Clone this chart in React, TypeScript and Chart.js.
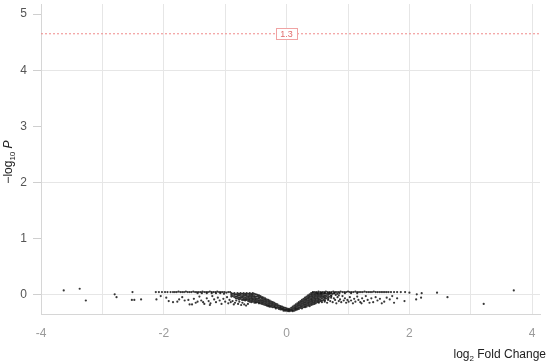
import React, { useEffect, useRef } from "react";
import { Chart, registerables } from "chart.js";

Chart.register(...registerables);

type P = [number, number];

// Axis ranges and tick labels
const xRange: [number, number] = [-4, 4.127];
const yRange: [number, number] = [-0.34, 5.18];
const xTickValues = [-4, -3, -2, -1, 0, 1, 2, 3, 4];
const xLabelValues = [-4, -2, 0, 2, 4];
const yTickValues = [0, 1, 2, 3, 4, 5];
const yGridValues = [0, 2, 4];

// Threshold line
const thresholdY = 4.65;
const thresholdLabel = "1.3";

// Outlying genes (far from zero fold change)
const farLeft: P[] = [
  [-3.63, 0.08], [-3.37, 0.11], [-3.27, -0.1], [-2.8, 0.01], [-2.77, -0.04],
  [-2.51, 0.05], [-2.52, -0.09], [-2.48, -0.09], [-2.37, -0.08], [-2.12, -0.08],
];
const farRight: P[] = [
  [2.0, 0.04], [2.12, 0.01], [2.2, 0.03], [2.19, -0.05], [2.11, -0.08],
  [2.45, 0.04], [2.62, -0.04], [3.21, -0.16], [3.7, 0.08], [1.92, -0.11],
];

// Upper flat line of points, left and right
const topLineLeft: P[] = [
  [-2.13, 0.05], [-2.08, 0.05], [-2.03, 0.05], [-1.98, 0.05], [-1.94, 0.05], [-1.89, 0.05],
  [-1.85, 0.05], [-1.82, 0.05], [-1.79, 0.05], [-1.76, 0.06], [-1.73, 0.05], [-1.7, 0.05],
  [-1.67, 0.05], [-1.64, 0.06], [-1.61, 0.05], [-1.58, 0.05], [-1.55, 0.05], [-1.52, 0.06],
  [-1.49, 0.05], [-1.46, 0.05], [-1.43, 0.05], [-1.4, 0.05], [-1.37, 0.06], [-1.34, 0.05],
  [-1.31, 0.05], [-1.28, 0.05], [-1.25, 0.06], [-1.22, 0.05], [-1.19, 0.05], [-1.16, 0.05],
  [-1.13, 0.06], [-1.1, 0.05], [-1.07, 0.05], [-1.04, 0.05], [-1.01, 0.05], [-0.98, 0.04],
  [-1.45, 0.03], [-1.38, 0.03], [-1.3, 0.03], [-1.22, 0.03], [-1.15, 0.03], [-1.08, 0.03],
  [-1.02, 0.02], [-0.95, 0.05], [-0.92, 0.05],
];
const topLineRight: P[] = [
  [0.43, 0.05], [0.46, 0.05], [0.49, 0.05], [0.52, 0.06], [0.55, 0.05], [0.58, 0.05],
  [0.61, 0.05], [0.64, 0.06], [0.67, 0.05], [0.7, 0.05], [0.73, 0.05], [0.76, 0.06],
  [0.79, 0.05], [0.82, 0.05], [0.85, 0.05], [0.88, 0.06], [0.91, 0.05], [0.94, 0.05],
  [0.97, 0.05], [1.0, 0.06], [1.03, 0.05], [1.06, 0.05], [1.09, 0.05], [1.12, 0.06],
  [1.15, 0.05], [1.18, 0.05], [1.21, 0.05], [1.24, 0.05], [1.27, 0.06], [1.3, 0.05],
  [1.33, 0.05], [1.36, 0.05], [1.39, 0.05], [1.42, 0.06], [1.45, 0.05], [1.48, 0.05],
  [1.51, 0.05], [1.54, 0.05], [1.57, 0.05], [1.6, 0.05], [1.63, 0.05], [1.66, 0.05],
  [1.7, 0.05], [1.75, 0.05], [1.8, 0.05], [1.86, 0.05], [1.93, 0.05],
  [0.5, 0.03], [0.56, 0.03], [0.62, 0.03], [0.7, 0.03], [0.78, 0.03], [0.86, 0.03],
  [0.95, 0.03], [1.05, 0.03], [1.15, 0.03],
];

// Scattered points below the flat line
const belowLeft: P[] = [
  [-1.92, -0.11], [-1.85, -0.13], [-1.78, -0.12], [-1.6, -0.09], [-1.58, -0.17], [-1.54, -0.17],
  [-1.51, -0.07], [-2.05, -0.02], [-1.96, -0.05], [-1.7, -0.04], [-1.66, -0.1], [-1.45, -0.12],
  [-1.42, -0.03], [-1.39, -0.1], [-1.36, -0.13], [-1.34, -0.16], [-1.3, -0.06], [-1.27, -0.11],
  [-1.24, -0.15], [-1.21, -0.02], [-1.18, -0.08], [-1.15, -0.13], [-1.12, -0.05], [-1.09, -0.1],
  [-1.06, -0.16], [-1.03, -0.07], [-1.0, -0.12], [-0.97, -0.04], [-0.95, -0.15], [-0.93, -0.09],
  [-0.91, -0.13], [-0.88, -0.11], [-0.86, -0.17], [-0.84, -0.14], [-0.82, -0.1], [-0.79, -0.16],
  [-0.77, -0.12], [-0.74, -0.18], [-0.72, -0.14], [-0.69, -0.17], [-0.66, -0.19], [-0.63, -0.16],
  [-1.48, -0.14], [-1.75, -0.08], [-1.25, -0.18],
];
const belowRight: P[] = [
  [0.62, -0.12], [0.66, -0.14], [0.68, -0.07], [0.71, -0.11], [0.73, -0.02], [0.75, -0.13],
  [0.77, -0.06], [0.79, -0.09], [0.81, -0.15], [0.83, -0.04], [0.85, -0.11], [0.87, -0.08],
  [0.89, -0.13], [0.91, -0.02], [0.93, -0.1], [0.95, -0.06], [0.97, -0.14], [0.99, -0.09],
  [1.01, -0.12], [1.03, -0.04], [1.05, -0.1], [1.08, -0.15], [1.1, -0.07], [1.12, -0.12],
  [1.15, -0.03], [1.17, -0.09], [1.2, -0.13], [1.23, -0.06], [1.26, -0.11], [1.29, -0.02],
  [1.32, -0.09], [1.35, -0.14], [1.38, -0.06], [1.41, -0.13], [1.45, -0.04], [1.48, -0.1],
  [1.52, -0.07], [1.55, -0.15], [1.59, -0.12], [1.63, -0.05], [1.68, -0.08], [1.72, -0.02],
  [1.75, -0.14], [1.8, -0.06], [1.22, -0.15],
];

// Dense V-shaped band around zero fold change
const vLeft: P[] = [
  [-0.9, 0.03], [-0.9, 0.0], [-0.9, -0.03], [-0.875, 0.02], [-0.875, -0.02],
  [-0.85, 0.03], [-0.85, 0.0], [-0.85, -0.04], [-0.825, 0.01], [-0.825, -0.03], [-0.825, -0.06],
  [-0.8, 0.03], [-0.8, 0.0], [-0.8, -0.03], [-0.8, -0.06],
  [-0.775, 0.02], [-0.775, -0.01], [-0.775, -0.05], [-0.775, -0.08],
  [-0.75, 0.03], [-0.75, 0.0], [-0.75, -0.04], [-0.75, -0.07],
  [-0.725, 0.02], [-0.725, -0.02], [-0.725, -0.05], [-0.725, -0.09],
  [-0.7, 0.03], [-0.7, 0.0], [-0.7, -0.03], [-0.7, -0.06], [-0.7, -0.09],
  [-0.675, 0.02], [-0.675, -0.01], [-0.675, -0.05], [-0.675, -0.08], [-0.675, -0.1],
  [-0.65, 0.03], [-0.65, 0.0], [-0.65, -0.03], [-0.65, -0.06], [-0.65, -0.09],
  [-0.625, 0.02], [-0.625, -0.02], [-0.625, -0.05], [-0.625, -0.08], [-0.625, -0.11],
  [-0.6, 0.03], [-0.6, 0.0], [-0.6, -0.03], [-0.6, -0.06], [-0.6, -0.09], [-0.6, -0.12],
  [-0.575, 0.02], [-0.575, -0.01], [-0.575, -0.04], [-0.575, -0.07], [-0.575, -0.1], [-0.575, -0.13],
  [-0.55, 0.03], [-0.55, 0.0], [-0.55, -0.03], [-0.55, -0.06], [-0.55, -0.09], [-0.55, -0.12],
  [-0.525, 0.02], [-0.525, -0.02], [-0.525, -0.05], [-0.525, -0.08], [-0.525, -0.11], [-0.525, -0.14],
  [-0.5, 0.01], [-0.5, -0.03], [-0.5, -0.06], [-0.5, -0.09], [-0.5, -0.12], [-0.5, -0.14],
  [-0.475, 0.0], [-0.475, -0.03], [-0.475, -0.07], [-0.475, -0.1], [-0.475, -0.13],
  [-0.45, -0.01], [-0.45, -0.04], [-0.45, -0.07], [-0.45, -0.1], [-0.45, -0.13], [-0.45, -0.15],
  [-0.425, -0.02], [-0.425, -0.05], [-0.425, -0.09], [-0.425, -0.12], [-0.425, -0.15],
  [-0.4, -0.04], [-0.4, -0.07], [-0.4, -0.1], [-0.4, -0.13], [-0.4, -0.16],
  [-0.375, -0.05], [-0.375, -0.08], [-0.375, -0.11], [-0.375, -0.14], [-0.375, -0.17],
  [-0.35, -0.06], [-0.35, -0.09], [-0.35, -0.12], [-0.35, -0.15], [-0.35, -0.18],
  [-0.325, -0.08], [-0.325, -0.11], [-0.325, -0.14], [-0.325, -0.17], [-0.325, -0.19],
  [-0.3, -0.09], [-0.3, -0.12], [-0.3, -0.15], [-0.3, -0.18], [-0.3, -0.2],
  [-0.275, -0.1], [-0.275, -0.13], [-0.275, -0.16], [-0.275, -0.19], [-0.275, -0.21],
  [-0.25, -0.12], [-0.25, -0.15], [-0.25, -0.18], [-0.25, -0.21],
  [-0.225, -0.13], [-0.225, -0.16], [-0.225, -0.19], [-0.225, -0.22],
  [-0.2, -0.14], [-0.2, -0.17], [-0.2, -0.2], [-0.2, -0.22],
  [-0.175, -0.16], [-0.175, -0.19], [-0.175, -0.22], [-0.175, -0.24],
  [-0.15, -0.17], [-0.15, -0.2], [-0.15, -0.23],
  [-0.125, -0.19], [-0.125, -0.22], [-0.125, -0.25],
  [-0.1, -0.2], [-0.1, -0.22], [-0.1, -0.24], [-0.1, -0.26],
  [-0.075, -0.21], [-0.075, -0.24], [-0.075, -0.26],
  [-0.05, -0.22], [-0.05, -0.24], [-0.05, -0.26], [-0.05, -0.28],
  [-0.025, -0.23], [-0.025, -0.26], [-0.025, -0.28],
  [0.0, -0.24], [0.0, -0.26], [0.0, -0.28],
  [0.025, -0.25], [0.025, -0.27], [0.025, -0.29],
];
const vRight: P[] = [
  [0.05, -0.25], [0.05, -0.27], [0.05, -0.29],
  [0.075, -0.23], [0.075, -0.26], [0.075, -0.28],
  [0.1, -0.21], [0.1, -0.24], [0.1, -0.27], [0.1, -0.29],
  [0.125, -0.19], [0.125, -0.22], [0.125, -0.25], [0.125, -0.28],
  [0.15, -0.17], [0.15, -0.2], [0.15, -0.23], [0.15, -0.25], [0.15, -0.27],
  [0.175, -0.15], [0.175, -0.18], [0.175, -0.21], [0.175, -0.24], [0.175, -0.26],
  [0.2, -0.13], [0.2, -0.16], [0.2, -0.19], [0.2, -0.22], [0.2, -0.25],
  [0.225, -0.11], [0.225, -0.14], [0.225, -0.17], [0.225, -0.2], [0.225, -0.23],
  [0.25, -0.09], [0.25, -0.12], [0.25, -0.15], [0.25, -0.18], [0.25, -0.21], [0.25, -0.24],
  [0.275, -0.07], [0.275, -0.1], [0.275, -0.13], [0.275, -0.16], [0.275, -0.19], [0.275, -0.22],
  [0.3, -0.05], [0.3, -0.08], [0.3, -0.11], [0.3, -0.14], [0.3, -0.17], [0.3, -0.2], [0.3, -0.22],
  [0.325, -0.03], [0.325, -0.06], [0.325, -0.09], [0.325, -0.12], [0.325, -0.15], [0.325, -0.18], [0.325, -0.21],
  [0.35, -0.01], [0.35, -0.04], [0.35, -0.07], [0.35, -0.1], [0.35, -0.13], [0.35, -0.16], [0.35, -0.19],
  [0.375, 0.01], [0.375, -0.02], [0.375, -0.05], [0.375, -0.08], [0.375, -0.11], [0.375, -0.14], [0.375, -0.17], [0.375, -0.2],
  [0.4, 0.03], [0.4, 0.0], [0.4, -0.03], [0.4, -0.06], [0.4, -0.09], [0.4, -0.12], [0.4, -0.15], [0.4, -0.18],
  [0.425, 0.04], [0.425, 0.01], [0.425, -0.02], [0.425, -0.05], [0.425, -0.08], [0.425, -0.11], [0.425, -0.14], [0.425, -0.17],
  [0.45, 0.02], [0.45, -0.01], [0.45, -0.04], [0.45, -0.07], [0.45, -0.1], [0.45, -0.13], [0.45, -0.16],
  [0.475, 0.03], [0.475, 0.0], [0.475, -0.03], [0.475, -0.06], [0.475, -0.09], [0.475, -0.12], [0.475, -0.15],
  [0.5, 0.02], [0.5, -0.01], [0.5, -0.04], [0.5, -0.07], [0.5, -0.1], [0.5, -0.13],
  [0.525, 0.03], [0.525, 0.0], [0.525, -0.03], [0.525, -0.06], [0.525, -0.09], [0.525, -0.12], [0.525, -0.14],
  [0.55, 0.02], [0.55, -0.01], [0.55, -0.04], [0.55, -0.08], [0.55, -0.11],
  [0.575, 0.03], [0.575, 0.0], [0.575, -0.03], [0.575, -0.06], [0.575, -0.1], [0.575, -0.13],
  [0.6, 0.02], [0.6, -0.02], [0.6, -0.05], [0.6, -0.09],
  [0.625, 0.03], [0.625, -0.01], [0.625, -0.04], [0.625, -0.07], [0.625, -0.1],
  [0.65, 0.02], [0.65, -0.02], [0.65, -0.06],
  [0.675, 0.03], [0.675, 0.0], [0.675, -0.04], [0.675, -0.09],
  [0.7, 0.02], [0.7, -0.03],
  [0.725, 0.03], [0.725, -0.01], [0.725, -0.05],
  [0.75, 0.02], [0.775, 0.03], [0.8, 0.0], [0.825, 0.02], [0.85, -0.01],
];

const FONT = '"Liberation Sans", Arial, Helvetica, sans-serif';

const overlayPlugin = {
  id: "overlay",
  afterDatasetsDraw(chart: any) {
    const { ctx, scales } = chart;
    const x = scales.x.getPixelForValue(0);
    const y = scales.y.getPixelForValue(thresholdY);
    ctx.save();
    ctx.font = `9px ${FONT}`;
    const w = ctx.measureText(thresholdLabel).width + 8;
    const h = 11;
    ctx.fillStyle = "#ffffff";
    ctx.fillRect(x - w / 2, y - h / 2, w, h);
    ctx.strokeStyle = "#f0a3a3";
    ctx.lineWidth = 1;
    ctx.strokeRect(Math.round(x - w / 2) + 0.5, Math.round(y - h / 2) + 0.5, Math.round(w), h);
    ctx.fillStyle = "#e06b6b";
    ctx.textAlign = "center";
    ctx.textBaseline = "middle";
    ctx.fillText(thresholdLabel, x, y + 0.5);
    ctx.restore();
  },
  afterDraw(chart: any) {
    const { ctx } = chart;
    ctx.save();
    ctx.fillStyle = "#222";
    ctx.textBaseline = "alphabetic";
    ctx.translate(12, 162);
    ctx.rotate(-Math.PI / 2);
    const big = `12px ${FONT}`;
    const small = `8px ${FONT}`;
    const ital = `italic 12px ${FONT}`;
    const parts: [string, string, number][] = [
      ["\u2212log", big, 0],
      ["10", small, 3],
      [" P", ital, 0],
    ];
    let total = 0;
    for (const [t, f] of parts) { ctx.font = f; total += ctx.measureText(t).width; }
    let cx = -total / 2;
    for (const [t, f, dy] of parts) {
      ctx.font = f;
      ctx.fillText(t, cx, dy);
      cx += ctx.measureText(t).width;
    }
    ctx.restore();

    ctx.save();
    ctx.fillStyle = "#222";
    const xparts: [string, string, number][] = [
      ["log", `12px ${FONT}`, 0],
      ["2", `8px ${FONT}`, 3],
      [" Fold Change", `12px ${FONT}`, 0],
    ];
    let xt = 0;
    for (const [t, f] of xparts) { ctx.font = f; xt += ctx.measureText(t).width; }
    let sx = 546 - xt;
    for (const [t, f, dy] of xparts) {
      ctx.font = f;
      ctx.fillText(t, sx, 358 + dy);
      sx += ctx.measureText(t).width;
    }
    ctx.restore();
  },
};

function App() {
  const ref = useRef<HTMLCanvasElement | null>(null);
  useEffect(() => {
    if (!ref.current) return;
    const toXY = (arr: P[]) => arr.map(([x, y]) => ({ x, y }));
    const points = [
      ...farLeft, ...farRight, ...topLineLeft, ...topLineRight,
      ...belowLeft, ...belowRight, ...vLeft, ...vRight,
    ];
    const chart = new Chart(ref.current, {
      type: "scatter",
      data: {
        datasets: [
          {
            type: "line" as any,
            data: [{ x: xRange[0], y: thresholdY }, { x: xRange[1], y: thresholdY }],
            borderColor: "#f08a8a",
            borderWidth: 1,
            borderDash: [2, 2],
            pointRadius: 0,
            fill: false,
          } as any,
          {
            data: toXY(points),
            backgroundColor: "rgba(20,20,20,0.85)",
            borderWidth: 0,
            pointRadius: 1.1,
          },
        ],
      },
      options: {
        responsive: false,
        animation: false,
        events: [],
        layout: { padding: { top: 0, right: 10, left: 0, bottom: 0 } },
        plugins: { legend: { display: false }, tooltip: { enabled: false } },
        scales: {
          x: {
            type: "linear",
            min: xRange[0],
            max: xRange[1],
            afterBuildTicks: (s: any) => {
              s.ticks = xTickValues.map((v) => ({ value: v }));
            },
            afterFit: (s: any) => {
              s.height = 49;
              s.paddingLeft = 0;
              s.paddingRight = 0;
            },
            ticks: {
              autoSkip: false,
              maxRotation: 0,
              padding: 12,
              color: "#9a9a9a",
              font: { family: FONT, size: 12 },
              callback: (v: any) => (xLabelValues.includes(Number(v)) ? String(v) : ""),
            },
            grid: { color: "#e6e6e6", drawTicks: false, tickLength: 0 },
            border: { color: "#d6d6d6" },
          },
          y: {
            type: "linear",
            min: yRange[0],
            max: yRange[1],
            afterBuildTicks: (s: any) => {
              s.ticks = yTickValues.map((v) => ({ value: v }));
            },
            afterFit: (s: any) => {
              s.width = 41;
              s.paddingTop = 0;
              s.paddingBottom = 0;
            },
            ticks: {
              padding: 6,
              color: "#555",
              font: { family: FONT, size: 12 },
              callback: (v: any) => String(v),
            },
            grid: {
              color: (c: any) => (c.tick && yGridValues.includes(c.tick.value) ? "#e6e6e6" : "rgba(0,0,0,0)"),
              tickColor: "#cfcfcf",
              tickLength: 8,
            },
            border: { color: "#d6d6d6" },
          },
        },
      },
      plugins: [overlayPlugin],
    });
    return () => chart.destroy();
  }, []);
  return (
    <div style={{ position: "absolute", left: 0, top: 0, width: 550, height: 363, background: "#fff" }}>
      <canvas ref={ref} width={550} height={363} style={{ display: "block" }} />
    </div>
  );
}

export default App;
